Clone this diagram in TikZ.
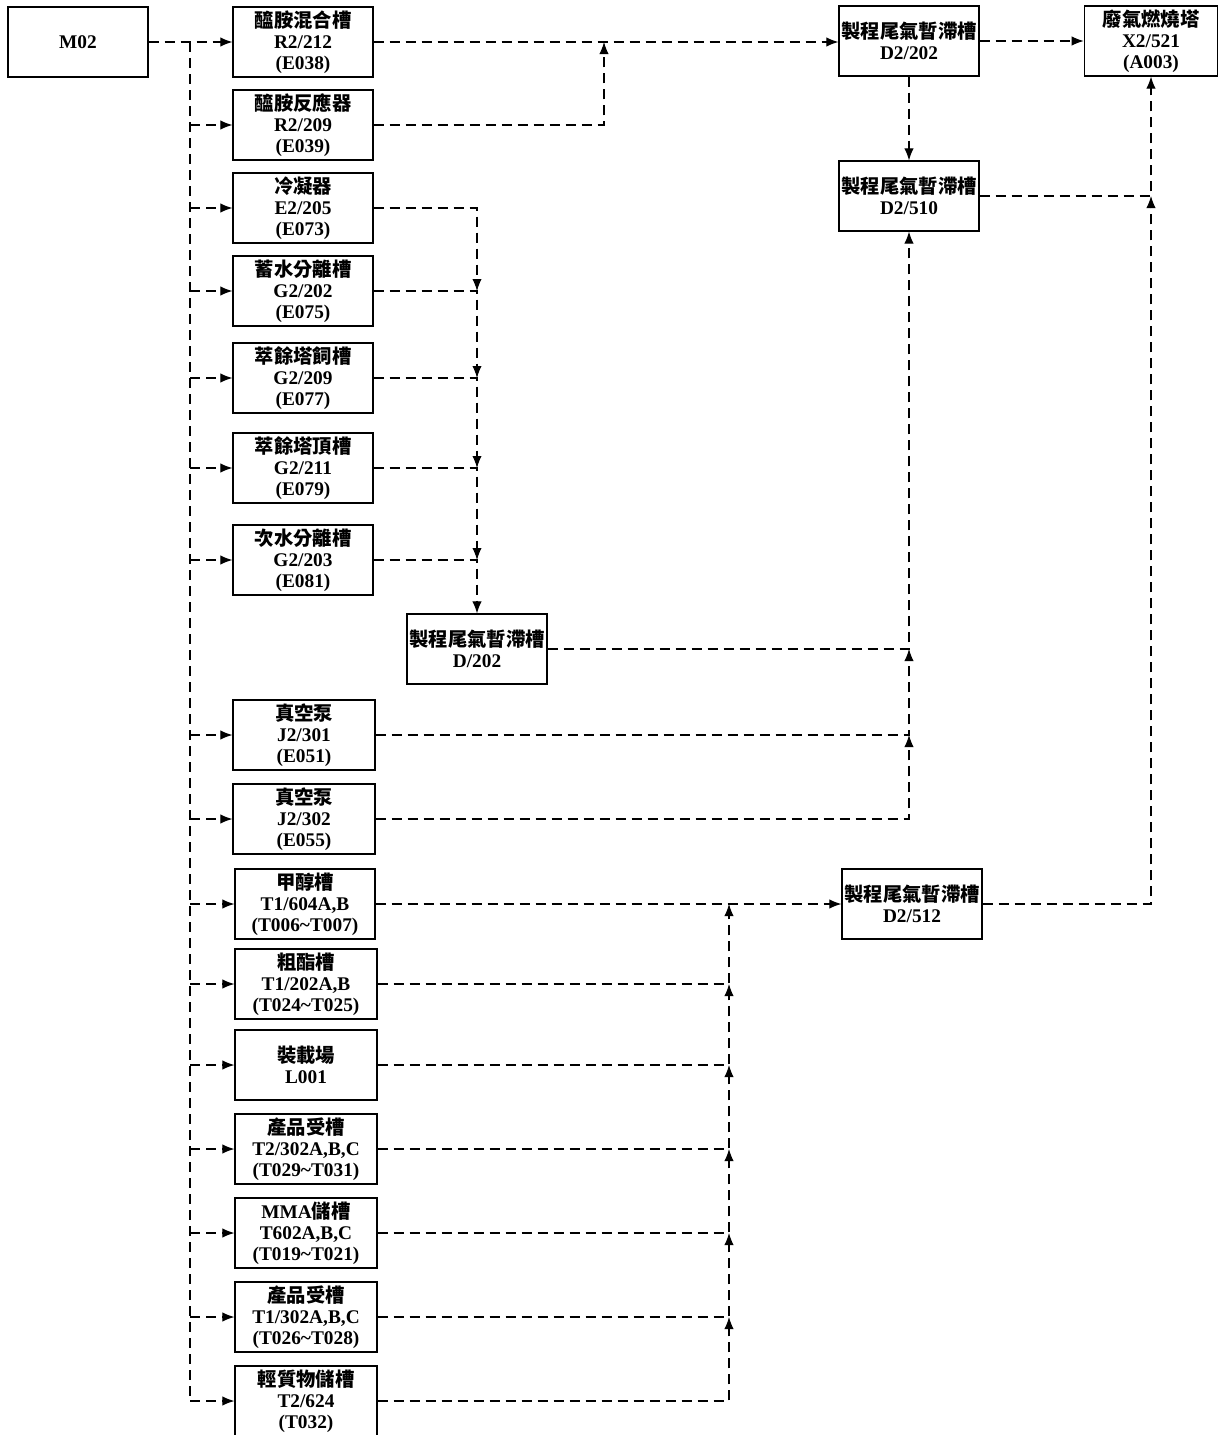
\documentclass[tikz,border=0pt]{standalone}
\usepackage{fontspec}
\setmainfont{Liberation Serif}
\newfontfamily\cjk{Noto Sans CJK TC}
\usepackage{tikz}
\usetikzlibrary{arrows.meta,positioning,calc}
\tikzset{
  unitBox/.style={rectangle,draw,line width=0.9pt,minimum width=#1,minimum height=52.5pt,
                  inner sep=0pt,align=center,font=\fontsize{14.5}{15.75}\selectfont\bfseries},
  unitBox/.default=105pt,
  flowLine/.style={line width=0.8pt,dash pattern=on 7.5pt off 4.5pt},
  flowArrow/.style={flowLine,-{Latex[length=9pt,width=7pt]}},
}
\newcommand{\zh}[1]{{\cjk #1}}

\begin{document}
\begin{tikzpicture}[x=0.75pt,y=-0.75pt]
  \useasboundingbox (0,0) rectangle (1219,1435);
  % source
  \node[unitBox](m02) at (78,42) {M02};
  % left column
  \node[unitBox](r212) at (303,42) {\zh{醯胺混合槽}\\R2/212\\(E038)};
  \node[unitBox](r209) at (303,125) {\zh{醯胺反應器}\\R2/209\\(E039)};
  \node[unitBox](e205) at (303,208) {\zh{冷凝器}\\E2/205\\(E073)};
  \node[unitBox](g202) at (303,291) {\zh{蓄水分離槽}\\G2/202\\(E075)};
  \node[unitBox](g209) at (303,378) {\zh{萃餘塔飼槽}\\G2/209\\(E077)};
  \node[unitBox](g211) at (303,468) {\zh{萃餘塔頂槽}\\G2/211\\(E079)};
  \node[unitBox](g203) at (303,560) {\zh{次水分離槽}\\G2/203\\(E081)};
  \node[unitBox](d202) at (477,649) {\zh{製程尾氣暫滯槽}\\D/202};
  \node[unitBox=106.5pt](j301) at (304,735) {\zh{真空泵}\\J2/301\\(E051)};
  \node[unitBox=106.5pt](j302) at (304,819) {\zh{真空泵}\\J2/302\\(E055)};
  \node[unitBox](t604) at (305,904) {\zh{甲醇槽}\\T1/604A,B\\(T006\textasciitilde T007)};
  \node[unitBox=106.5pt](t202) at (306,984) {\zh{粗酯槽}\\T1/202A,B\\(T024\textasciitilde T025)};
  \node[unitBox=106.5pt](l001) at (306,1065) {\zh{裝載場}\\L001};
  \node[unitBox=106.5pt](t2302) at (306,1149) {\zh{產品受槽}\\T2/302A,B,C\\(T029\textasciitilde T031)};
  \node[unitBox=106.5pt](t602) at (306,1233) {MMA\zh{儲槽}\\T602A,B,C\\(T019\textasciitilde T021)};
  \node[unitBox=106.5pt](t1302) at (306,1317) {\zh{產品受槽}\\T1/302A,B,C\\(T026\textasciitilde T028)};
  \node[unitBox=106.5pt](t624) at (306,1401) {\zh{輕質物儲槽}\\T2/624\\(T032)};
  % right side
  \node[unitBox](d2202) at (909,41) {\zh{製程尾氣暫滯槽}\\D2/202};
  \node[unitBox=100pt](x521) at (1151,41) {\zh{廢氣燃燒塔}\\X2/521\\(A003)};
  \node[unitBox](d510) at (909,196) {\zh{製程尾氣暫滯槽}\\D2/510};
  \node[unitBox](d512) at (912,904) {\zh{製程尾氣暫滯槽}\\D2/512};
  % junctions
  \coordinate (trunk) at (190,42);
  \coordinate (mixA) at (604,42);
  \coordinate (tankCol) at (729,904);
  % feed from M02
  \draw[flowArrow](m02)--(r212);
  \draw[flowLine](trunk)--(trunk |- t624.west);
  \foreach \n in {r209,e205,g202,g209,g211,g203,j301,j302,t604,t202,l001,t2302,t602,t1302,t624}
    {\draw[flowArrow](trunk |- \n.west)--(\n.west);}
  % upper branch
  \draw[flowArrow](r212.east)--(r212.east -| d2202.west);
  \draw[flowArrow](r209.east)-|(mixA);
  \draw[flowArrow](d2202)--(x521);
  \draw[flowArrow](d2202)--(d510);
  \draw[flowArrow](d510.east)-|(x521.south);
  \draw[flowArrow](d512.east)-|(x521.south |- d510.east);
  % condenser chain
  \foreach \x/\y in {e205/g202,g202/g209,g209/g211,g211/g203}
    {\draw[flowArrow](\x.east)-|(d202.north |- \y.east);}
  \draw[flowArrow](g203.east)-|(d202.north);
  % vacuum chain
  \draw[flowArrow](j302.east)-|(d510.south |- j301.east);
  \draw[flowArrow](j301.east)-|(d510.south |- d202.east);
  \draw[flowArrow](d202.east)-|(d510.south);
  % tank chain
  \foreach \x/\y in {t624/t1302,t1302/t602,t602/t2302,t2302/l001,l001/t202}
    {\draw[flowArrow](\x.east)-|(tankCol |- \y.east);}
  \draw[flowArrow](t202.east)-|(tankCol);
  \draw[flowArrow](t604.east)--(d512.west);
\end{tikzpicture}
\end{document}
